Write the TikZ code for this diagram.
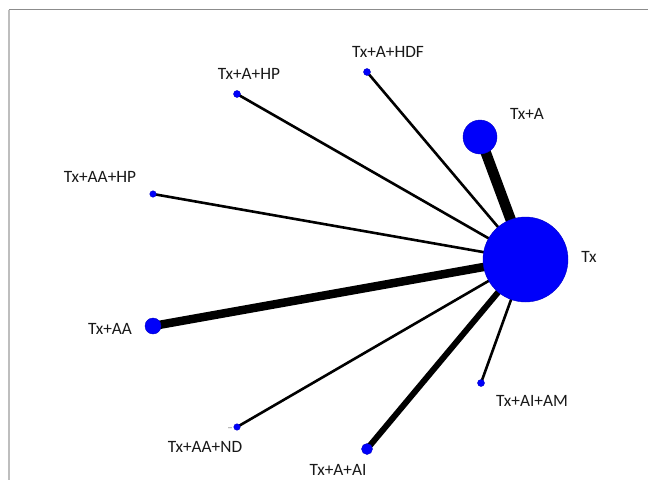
\documentclass[tikz,border=0pt]{standalone}
\usepackage{fontspec}
\setmainfont{Carlito}
\begin{document}
\begin{tikzpicture}[x=1pt,y=-1pt,
  nd/.style={circle,fill=netblue,draw=netblue!80!black,line width=0.4pt,inner sep=0pt,minimum size=#1},
  lab/.style={font=\fontsize{17.3}{19}\selectfont,inner sep=0pt,text=black!90},
  thin/.style={line width=2.6pt,black},
  frame/.style={line width=1.6pt}]
\definecolor{netblue}{RGB}{0,0,250}
\useasboundingbox (0,0) rectangle (648,480);
\fill[white] (0,0) rectangle (648,480);
% frame
\draw[frame,draw={rgb,255:red,140;green,140;blue,140}] (8.7,9.5) coordinate (f1) -- (648,9.5) coordinate (f2);
\draw[frame,line width=2pt,draw={rgb,255:red,190;green,190;blue,190}] (f1) -- (8.7,480) coordinate (f3);
% node positions
\coordinate (cTx) at (525.5,259.5);
\coordinate (cA) at (480,137);
\coordinate (cHDF) at (367,72);
\coordinate (cHP) at (237,94);
\coordinate (cAAHP) at (153,194);
\coordinate (cAA) at (153,326);
\coordinate (cND) at (237,427);
\coordinate (cAI) at (367,449);
\coordinate (cAM) at (481,383);
% edges
\draw[line width=10.5pt] (cTx) -- (cA);
\draw[line width=8.5pt] (cTx) -- (cAA);
\draw[line width=6pt] (cTx) -- (cAI);
\draw[thin] (cTx) -- (cHDF);
\draw[thin] (cTx) -- (cHP);
\draw[thin] (cTx) -- (cAAHP);
\draw[thin] (cTx) -- (cND);
\draw[thin] (cTx) -- (cAM);
% nodes
\node[nd=85pt] (Tx) at (cTx) {};
\node[nd=34pt] (A) at (cA) {};
\node[nd=7pt] (HDF) at (cHDF) {};
\node[nd=7pt] (HP) at (cHP) {};
\node[nd=6.5pt] (AAHP) at (cAAHP) {};
\node[nd=16pt] (AA) at (cAA) {};
\node[nd=6.5pt] (ND) at (cND) {};
\node[nd=11pt] (AI) at (cAI) {};
\node[nd=7pt] (AM) at (cAM) {};
% labels
\node[lab] (lTx) at (589,257) {Tx};
\node[lab] (lA) at (527,114) {Tx+A};
\node[lab] (lHDF) at (388,52) {Tx+A+HDF};
\node[lab] (lHP) at (249,74) {Tx+A+HP};
\node[lab] (lAAHP) at (100,177) {Tx+AA+HP};
\node[lab] (lAA) at (110,329) {Tx+AA};
\node[lab] (lND) at (205,447) {Tx+AA+ND};
\node[lab] (lAI) at (338,469.5) {Tx+A+AI};
\node[lab] (lAM) at (532,401) {Tx+AI+AM};
\node[font=\fontsize{8}{8}\selectfont,inner sep=0pt,text=black!70] (us) at (230,428) {\_};
\end{tikzpicture}
\end{document}
